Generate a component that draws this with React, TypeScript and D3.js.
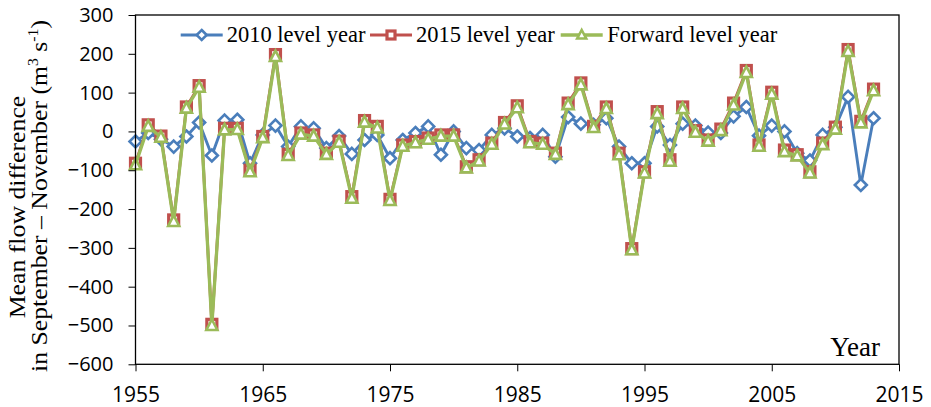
import React, {useEffect, useRef} from 'react';
import * as d3 from 'd3';

const years = [
  1955, 1956, 1957, 1958, 1959, 1960, 1961, 1962, 1963, 1964,
  1965, 1966, 1967, 1968, 1969, 1970, 1971, 1972, 1973, 1974,
  1975, 1976, 1977, 1978, 1979, 1980, 1981, 1982, 1983, 1984,
  1985, 1986, 1987, 1988, 1989, 1990, 1991, 1992, 1993, 1994,
  1995, 1996, 1997, 1998, 1999, 2000, 2001, 2002, 2003, 2004,
  2005, 2006, 2007, 2008, 2009, 2010, 2011, 2012, 2013
];

const level2010 = [
  -26, -4, -20, -39, -13, 23, -62, 28, 30, -82,
  -9, 15, -39, 13, 8, -43, -12, -58, -22, -9,
  -69, -22, -4, 13, -60, 0, -43, -48, -9, 8,
  -13, -17, -9, -65, 37, 20, 17, 34, -39, -82,
  -82, 13, -35, 20, 15, -3, -4, 39, 63, -11,
  15, 0, -56, -75, -9, 11, 89, -138, 34
];

const level2015 = [
  -82, 17, -12, -228, 63, 118, -497, 8, 8, -100,
  -13, 198, -59, -4, -9, -56, -25, -168, 28, 13,
  -175, -35, -26, -17, -9, -9, -91, -73, -30, 23,
  66, -26, -30, -56, 73, 125, 13, 63, -56, -302,
  -104, 51, -73, 63, 2, -22, 6, 73, 157, -35,
  101, -48, -60, -104, -30, 11, 211, 26, 109
];

const forward = [
  -86, 13, -15, -232, 60, 114, -500, 4, 5, -104,
  -16, 193, -62, -7, -12, -59, -28, -172, 24, 9,
  -178, -38, -29, -20, -12, -12, -94, -76, -33, 19,
  61, -29, -33, -59, 69, 120, 10, 59, -60, -305,
  -107, 46, -77, 59, -2, -25, 2, 68, 152, -38,
  96, -52, -63, -107, -34, 6, 206, 22, 105
];

const seriesNames = ['2010 level year', '2015 level year', 'Forward level year'];
const xTicks = [1955, 1965, 1975, 1985, 1995, 2005, 2015];
const yTicks = [-600, -500, -400, -300, -200, -100, 0, 100, 200, 300];

const BLUE = '#4a7ebb';
const RED = '#c0504d';
const GREEN = '#9bbb59';
const SERIF = "'Liberation Serif', 'Times New Roman', serif";
const SANS = "'Open Sans', sans-serif";

const left = 135.5, right = 899, top = 15, bottom = 364.3;

function Marker({kind, x, y, size, color}) {
  const h = size / 2;
  if (kind === 'diamond') {
    return <path d={`M${x},${y - h - 1}L${x + h + 1},${y}L${x},${y + h + 1}L${x - h - 1},${y}Z`}
      fill="#fff" stroke={color} strokeWidth={2.6}/>;
  }
  if (kind === 'square') {
    return <rect x={x - h} y={y - h} width={size} height={size}
      fill="#fff" stroke={color} strokeWidth={3.2}/>;
  }
  return <path d={`M${x},${y - h - 1}L${x + h + 0.5},${y + h - 0.5}L${x - h - 0.5},${y + h - 0.5}Z`}
    fill="#fff" stroke={color} strokeWidth={2.6} strokeLinejoin="miter"/>;
}

export default function App() {
  const xAxisRef = useRef(null);
  const yAxisRef = useRef(null);

  const x = d3.scaleLinear().domain([1955, 2015]).range([left, right]);
  const y = d3.scaleLinear().domain([-600, 300]).range([bottom, top]);

  useEffect(() => {
    const xAxis = d3.axisBottom(x)
      .tickValues(xTicks)
      .tickSize(7)
      .tickSizeOuter(0)
      .tickPadding(15.5)
      .tickFormat(d3.format('d'));
    const gx = d3.select(xAxisRef.current).call(xAxis as any);
    gx.select('.domain').remove();
    gx.selectAll('text').attr('font-family', SANS).attr('font-size', 21).attr('fill', '#000');

    const yAxis = d3.axisLeft(y)
      .tickValues(yTicks)
      .tickSize(7)
      .tickSizeOuter(0)
      .tickPadding(15);
    const gy = d3.select(yAxisRef.current).call(yAxis as any);
    gy.select('.domain').remove();
    gy.selectAll('text').attr('font-family', SANS).attr('font-size', 20).attr('fill', '#000');
    gy.selectAll('line').attr('stroke', '#000');
    gx.selectAll('line').attr('stroke', '#000');
  });

  const series = [
    {name: seriesNames[0], values: level2010, color: BLUE, kind: 'diamond', width: 2.9},
    {name: seriesNames[1], values: level2015, color: RED, kind: 'square', width: 2.9},
    {name: seriesNames[2], values: forward, color: GREEN, kind: 'triangle', width: 3.3}
  ];

  const line = d3.line<number>()
    .x((_, i) => x(years[i]))
    .y(d => y(d));

  const legendPos = [
    {lx: 180.7, tx: 226.7},
    {lx: 370, tx: 416},
    {lx: 560.7, tx: 607.3}
  ];

  return (
    <svg width={931} height={407} style={{position: 'absolute', left: 0, top: 0, background: '#fff'}}>
      <rect x={0} y={0} width={931} height={407} fill="#fff"/>
      {series.map(s => (
        <g key={s.name}>
          <path d={line(s.values) || ''} fill="none" stroke={s.color} strokeWidth={s.width} strokeLinejoin="round"/>
          {s.values.map((v, i) => (
            <Marker key={i} kind={s.kind} x={x(years[i])} y={y(v)} size={10} color={s.color}/>
          ))}
        </g>
      ))}
      <rect x={left} y={top} width={right - left} height={bottom - top} fill="none" stroke="#000" strokeWidth={1.3}/>
      <g ref={xAxisRef} transform={`translate(0,${bottom})`}/>
      <g ref={yAxisRef} transform={`translate(${left},0)`}/>

      {series.map((s, i) => (
        <g key={'leg' + i}>
          <line x1={legendPos[i].lx} x2={legendPos[i].lx + 42} y1={35} y2={35} stroke={s.color} strokeWidth={s.width}/>
          <Marker kind={s.kind} x={legendPos[i].lx + 21} y={35} size={8} color={s.color}/>
          <text x={legendPos[i].tx} y={42} fontFamily={SERIF} fontSize={22.5} fill="#000">{s.name}</text>
        </g>
      ))}

      <text x={880} y={356} textAnchor="end" fontFamily={SERIF} fontSize={27} fill="#000">Year</text>

      <text transform="translate(25,207) rotate(-90) scale(1.12,1)" textAnchor="middle"
        fontFamily={SERIF} fontSize={23} fill="#000">Mean flow difference</text>
      <text transform="translate(47,196) rotate(-90) scale(1.12,1)" textAnchor="middle"
        fontFamily={SERIF} fontSize={23} fill="#000">
        in September – November (m<tspan dy={-9} fontSize={14}>3</tspan><tspan dy={9}> s</tspan><tspan dy={-9} fontSize={14}>-1</tspan><tspan dy={9}>)</tspan>
      </text>
    </svg>
  );
}
